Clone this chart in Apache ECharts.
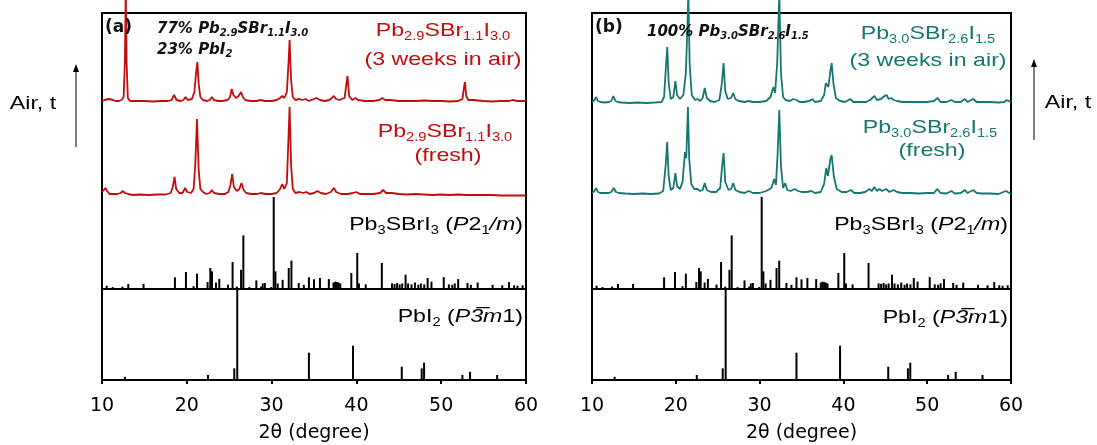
<!DOCTYPE html>
<html><head><meta charset="utf-8">
<script src="https://cdn.jsdelivr.net/npm/echarts@6/dist/echarts.min.js"></script>
<style>html,body{margin:0;padding:0;background:#fff}#c{width:1097px;height:445px}</style>
</head><body><div id="c"></div>
<script>
// ---------------- data ----------------
const xTicks = [10, 20, 30, 40, 50, 60];
const xTitle = '2θ (degree)';

// (a) Pb2.9SBr1.1I3.0, 3 weeks in air  [2θ, intensity a.u.]
const airA = [[10,1],[10.3,2],[10.5,1],[10.8,3],[11.0,1],[11.3,2],[11.6,1],[12.0,1],[12.3,2],[12.55,5],[12.7,40],[12.8,112],[12.9,40],[13.05,4],[13.3,1],[14,1],[15,1],[16,0.5],[17,1],[17.8,1],[18.2,2],[18.5,7],[18.8,2],[19.3,1],[19.6,2],[19.85,5],[20.1,2],[20.6,3],[20.9,10],[21.1,30],[21.25,40],[21.4,18],[21.6,5],[21.9,2],[22.4,1],[22.7,2],[22.95,5],[23.2,2],[23.7,1],[24.2,1],[24.8,2],[25.1,5],[25.3,13],[25.5,7],[25.8,4],[26.1,6],[26.4,10],[26.6,5],[26.9,2],[27.5,1],[28.2,1],[28.7,2],[29.2,1],[30,1],[30.6,2],[31,4],[31.25,6],[31.5,4],[31.8,10],[32.0,40],[32.12,62],[32.3,22],[32.5,5],[32.8,2],[33.3,3],[33.6,2],[34.0,3],[34.4,1],[35.0,3],[35.3,4],[35.7,2],[36.3,1],[36.8,2],[37.1,4],[37.35,6],[37.6,3],[38.0,2],[38.6,4],[38.85,20],[38.95,26],[39.15,6],[39.5,2],[39.9,4],[40.2,2],[41,1],[42,1],[42.7,2],[43.05,4],[43.4,2],[44,2],[45,1],[46,1],[47,1],[48,1.5],[49,1],[50,1],[51,0.5],[52,1],[52.5,3],[52.7,15],[52.8,20],[52.95,6],[53.2,2],[53.8,2],[54,1.5],[55,1],[56,0.5],[57,1],[58,1],[58.4,2],[59,1],[60,1]];
// (a) Pb2.9SBr1.1I3.0, fresh
const freshA = [[10,3],[10.2,5],[10.4,7],[10.6,4],[10.9,1],[11.3,1],[11.8,1],[12.2,2],[12.45,4],[12.7,2],[12.9,4],[13.1,1],[13.6,0],[14.5,0.5],[15.5,0],[16.5,0.5],[17.5,0.5],[18.1,2],[18.35,8],[18.55,18],[18.75,6],[19.1,2],[19.5,2],[19.8,7],[20.05,3],[20.5,2],[20.8,6],[21.0,30],[21.2,76],[21.4,25],[21.6,6],[21.9,3],[22.3,1],[22.7,2],[22.95,5],[23.2,2],[23.8,1],[24.5,1],[24.9,3],[25.15,10],[25.35,21],[25.55,8],[25.9,4],[26.2,6],[26.45,12],[26.7,5],[27.0,2],[27.6,1],[28.3,1],[28.7,2],[29.3,1],[30,1],[30.6,2],[31.0,6],[31.25,11],[31.5,6],[31.8,12],[32.0,60],[32.12,88],[32.3,30],[32.5,6],[32.8,2],[33.3,3],[33.7,2],[34.1,3],[34.5,1],[35.0,2],[35.4,4],[35.8,2],[36.4,1],[37.0,3],[37.35,7],[37.6,3],[38.2,1],[39.0,1],[39.6,2],[40.0,3],[40.4,1],[41.0,1],[42.0,1],[42.8,2],[43.15,5],[43.5,2],[44.2,2],[45,1],[46,0.5],[47,1],[48,0.5],[49,0],[50,0.5],[51,0],[52,0.5],[53,0],[54,0],[55,0],[56,0],[57,-0.5],[58,-0.5],[59,-0.5],[60,-0.5]];
// (b) Pb3.0SBr2.6I1.5, 3 weeks in air
const airB = [[10,1],[10.3,3],[10.5,6],[10.7,2],[11,1],[11.5,0.5],[12,1],[12.3,2],[12.55,7],[12.8,2],[13.1,1],[13.5,0.5],[14.5,0],[15.5,0.5],[16.5,0],[17.5,0.5],[18.3,1],[18.6,6],[18.85,40],[18.98,56],[19.15,20],[19.4,4],[19.7,6],[19.95,22],[20.15,8],[20.5,4],[20.9,8],[21.2,30],[21.4,80],[21.5,110],[21.65,40],[21.9,8],[22.3,3],[22.6,4],[22.9,2],[23.2,5],[23.45,15],[23.7,5],[24.1,2],[24.6,1],[25.2,3],[25.5,20],[25.7,40],[25.9,12],[26.2,4],[26.6,5],[26.85,10],[27.1,4],[27.5,2],[28.2,1],[28.7,2],[29.2,1],[30,1],[30.8,2],[31.3,6],[31.65,16],[31.85,10],[32.1,40],[32.35,110],[32.55,30],[32.8,6],[33.1,3],[33.6,2],[34.0,4],[34.4,3],[34.8,1],[35.3,1],[35.9,2],[36.3,4],[36.6,1],[37.3,2],[37.7,8],[37.9,20],[38.05,22],[38.2,16],[38.45,32],[38.6,40],[38.8,20],[39.1,5],[39.6,2],[40.2,1],[40.8,4],[41.2,1],[42,1],[42.7,1],[43.2,3],[43.7,7],[44.0,3],[44.5,4],[44.9,7],[45.15,8],[45.4,4],[45.7,5],[46.0,3],[46.4,2],[47,1],[48,1],[49,1],[50,1],[50.8,2],[51.25,5],[51.6,1],[52.3,1],[52.9,3],[53.3,1],[54,1],[54.5,4],[54.8,1],[55.5,4],[55.9,1],[56.5,1],[57.5,1],[58.5,0.5],[59.2,1],[59.5,3],[60,1]];
// (b) Pb3.0SBr2.6I1.5, fresh
const freshB = [[10,1],[10.3,3],[10.5,6],[10.7,2],[11,1],[11.5,1],[12,1],[12.3,2],[12.6,6],[12.85,2],[13.2,1],[14,0.5],[15,0],[16,0.5],[17,0],[18,0.5],[18.5,3],[18.8,30],[18.97,52],[19.15,18],[19.4,4],[19.7,6],[19.95,21],[20.15,8],[20.5,5],[20.8,12],[21.1,42],[21.25,36],[21.45,87],[21.6,35],[21.85,10],[22.2,5],[22.6,5],[22.9,3],[23.2,4],[23.45,11],[23.7,4],[24.2,2],[24.8,2],[25.3,6],[25.55,30],[25.7,41],[25.9,12],[26.3,4],[26.6,5],[26.85,11],[27.1,4],[27.6,2],[28.2,1],[28.7,3],[29.2,1],[30,1],[30.8,3],[31.4,6],[31.75,15],[31.95,9],[32.15,40],[32.35,84],[32.55,28],[32.8,6],[33.05,11],[33.3,4],[33.7,3],[34.2,5],[34.6,3],[35.0,2],[35.6,2],[36.2,3],[36.6,1],[37.3,2],[37.7,10],[37.95,26],[38.15,18],[38.45,35],[38.6,39],[38.85,18],[39.2,5],[39.8,2],[40.4,2],[40.9,4],[41.3,1],[42,1],[42.6,2],[43.1,5],[43.4,3],[43.7,7],[44.0,3],[44.3,5],[44.6,3],[45.1,5],[45.5,2],[46.0,4],[46.4,2],[47,1],[48,1],[49,0.5],[50,1],[50.8,1],[51.2,5],[51.6,1],[52.3,0.5],[52.9,3],[53.3,0.5],[54,1],[54.5,4],[54.8,1],[55.5,4],[55.9,1],[56.5,0.5],[57.5,0.5],[58.5,0],[59.4,3],[60,0]];
// reference sticks: Pb3SBrI3 (P2_1/m)
const simPb3SBrI3 = [[10.55,2.5],[11.26,1],[12.4,1.5],[13.1,4.5],[14.9,4.5],[18.6,11.7],[19.9,17.6],[20.8,2],[21.2,15.7],[22.45,6.6],[22.77,22],[22.97,18.3],[23.44,6],[23.83,10],[24.86,3.7],[25.4,28.5],[25.9,1.5],[26.4,20],[26.67,57.8],[27.37,1],[28.2,8.4],[28.76,1.5],[28.95,5],[29.2,5.5],[29.94,1],[30.25,100],[30.45,18.3],[30.72,5],[31.3,9],[32.02,22],[32.34,30],[33.2,5.5],[33.8,3.5],[34.4,11.7],[35.0,9.5],[35.7,11],[36.75,9.8],[37.3,6],[37.5,7],[37.7,6.5],[37.9,6],[38.1,5],[39.4,16.5],[40.1,38.5],[40.3,5],[41.1,4],[43.0,27.5],[44.2,5],[44.5,4.5],[44.8,5.5],[45.1,4],[45.4,5],[45.8,14.6],[46.1,5],[46.5,4],[46.9,6],[47.3,3.5],[47.6,5],[48.0,4],[48.4,11],[48.85,7],[50.3,12],[50.9,4],[51.3,3.5],[51.6,5],[52.0,9.8],[53.1,5.5],[53.5,3.5],[54.3,6],[56.06,3.5],[57.2,3],[58.0,6.5],[58.6,3],[59.0,2.5],[59.6,3]];
// reference sticks: PbI2 (P-3m1)
const simPbI2 = [[12.7,3.5],[22.5,5.5],[25.6,12.8],[25.95,100],[34.4,30],[38.8,1],[39.6,37.7],[41.75,1],[45.35,14.6],[47.7,12.8],[47.98,19],[52.5,5.5],[53.4,9],[56.6,5.5],[57.8,1]];

// ---------------- style ----------------
const RED = '#c40c0c', TEAL = '#17766f', BLACK = '#000';
const FONT = '"Liberation Sans", Arial, sans-serif';
const BFONT = '"DejaVu Sans", Verdana, sans-serif';
const SX = 1.22; // horizontal stretch of the original figure's text

const panels = [
  {left: 102, right: 571, air: airA, fresh: freshA, color: RED, airTop: 2, freshTop: 95},
  {left: 592, right: 86, air: airB, fresh: freshB, color: TEAL, airTop: 3, freshTop: 94}
];

const grid = [], xAxis = [], yAxis = [], series = [];
panels.forEach((p, pi) => {
  const g0 = grid.length;
  grid.push({left: p.left, right: p.right, top: 13, bottom: 65, show: true, borderColor: BLACK, borderWidth: 2, backgroundColor: 'transparent'}); // frame
  grid.push({left: p.left, right: p.right, top: p.airTop, height: 100});   // air
  grid.push({left: p.left, right: p.right, top: p.freshTop, height: 100}); // fresh
  grid.push({left: p.left, right: p.right, top: 197, height: 91});         // Pb3SBrI3
  grid.push({left: p.left, right: p.right, top: 289, bottom: 65, show: true, borderColor: BLACK, borderWidth: 2, backgroundColor: 'transparent'}); // PbI2
  for (let k = 0; k < 5; k++) {
    const last = k === 4;
    xAxis.push({
      gridIndex: g0 + k, type: 'value', min: xTicks[0], max: xTicks[xTicks.length - 1], interval: 10,
      show: last,
      axisLine: {show: last, lineStyle: {color: BLACK, width: 2}},
      axisTick: {show: last, length: 4, lineStyle: {color: BLACK, width: 2}},
      axisLabel: {show: last, fontSize: 19, color: BLACK, fontFamily: BFONT, margin: 17},
      splitLine: {show: false},
      name: last ? xTitle : '', nameLocation: 'middle', nameGap: 44,
      nameTextStyle: {fontSize: 19, color: BLACK, fontFamily: BFONT}
    });
    yAxis.push({gridIndex: g0 + k, type: 'value', min: 0, max: 100, show: false, splitLine: {show: false}});
  }
  const lineS = (idx, data) => ({
    type: 'line', xAxisIndex: idx, yAxisIndex: idx, data, showSymbol: false, symbol: 'none',
    clip: false, smooth: false, lineStyle: {color: p.color, width: 1.8}, silent: true, animation: false
  });
  series.push(lineS(g0 + 1, p.air));
  series.push(lineS(g0 + 2, p.fresh));
  const barS = (idx, data) => ({
    type: 'bar', xAxisIndex: idx, yAxisIndex: idx, data, barWidth: 2, barGap: '-100%',
    itemStyle: {color: BLACK}, silent: true, animation: false
  });
  series.push(barS(g0 + 3, simPb3SBrI3));
  series.push(barS(g0 + 4, simPbI2));
});

// ---------------- text ----------------
function rich(color, size, sub) {
  return {
    b: {fontSize: size, fontFamily: FONT, fill: color},
    i: {fontSize: size, fontFamily: FONT, fontStyle: 'italic', fill: color},
    s: {fontSize: sub, fontFamily: FONT, fill: color, padding: [Math.round(size * 0.6), 0, 0, 0]}
  };
}
function richBI(size, sub) {
  return {
    b: {fontSize: size, fontFamily: BFONT, fontWeight: 'bold', fontStyle: 'italic', fill: '#111'},
    s: {fontSize: sub, fontFamily: BFONT, fontWeight: 'bold', fontStyle: 'italic', fill: '#111', padding: [Math.round(size * 0.6), 0, 0, 0]}
  };
}
function T(text, x, y, align, r, sx) {
  return {type: 'text', x, y, z: 100, silent: true, scaleX: sx || 1,
    style: {text, rich: r, align, verticalAlign: 'middle', fontSize: 19, fontFamily: FONT}};
}
const rR = rich(RED, 19, 12), rT = rich(TEAL, 19, 12), rK = rich(BLACK, 19, 12);
const rBI = richBI(15, 10);
const simLabel = '{b|Pb}{s|3}{b|SBrI}{s|3}{b| (}{i|P}{b|2}{s|1}{i|/m}{b|)}';
const pbi2Label = '{b|PbI}{s|2}{b| (}{i|P3\u0305m}{b|1)}';

const graphic = [
  {type: 'text', x: 105, y: 28, z: 100, style: {text: '(a)', fontSize: 17, fontWeight: 'bold', fontFamily: BFONT, fill: '#111', verticalAlign: 'middle'}},
  T('{b|77% Pb}{s|2.9}{b|SBr}{s|1.1}{b|I}{s|3.0}', 157, 29, 'left', rBI),
  T('{b|23% PbI}{s|2}', 157, 50, 'left', rBI),
  T('{b|Pb}{s|2.9}{b|SBr}{s|1.1}{b|I}{s|3.0}', 443, 31, 'center', rR, SX),
  T('{b|(3 weeks in air)}', 443, 60, 'center', rR, SX),
  T('{b|Pb}{s|2.9}{b|SBr}{s|1.1}{b|I}{s|3.0}', 445, 132, 'center', rR, SX),
  T('{b|(fresh)}', 448, 156, 'center', rR, SX),
  T(simLabel, 523, 225, 'right', rK, SX),
  T(pbi2Label, 523, 317, 'right', rK, SX),

  {type: 'text', x: 595, y: 28, z: 100, style: {text: '(b)', fontSize: 17, fontWeight: 'bold', fontFamily: BFONT, fill: '#111', verticalAlign: 'middle'}},
  T('{b|100% Pb}{s|3.0}{b|SBr}{s|2.6}{b|I}{s|1.5}', 647, 32, 'left', rBI),
  T('{b|Pb}{s|3.0}{b|SBr}{s|2.6}{b|I}{s|1.5}', 928, 34, 'center', rT, SX),
  T('{b|(3 weeks in air)}', 928, 61, 'center', rT, SX),
  T('{b|Pb}{s|3.0}{b|SBr}{s|2.6}{b|I}{s|1.5}', 930, 128, 'center', rT, SX),
  T('{b|(fresh)}', 932, 151, 'center', rT, SX),
  T(simLabel, 1008, 225, 'right', rK, SX),
  T(pbi2Label, 1008, 318, 'right', rK, SX),

  {type: 'text', x: 33, y: 104, z: 100, scaleX: SX, style: {text: 'Air, t', fontSize: 19, fontFamily: FONT, fill: BLACK, align: 'center', verticalAlign: 'middle'}},
  {type: 'line', z: 100, shape: {x1: 76, y1: 147, x2: 76, y2: 70}, style: {stroke: BLACK, lineWidth: 1}},
  {type: 'polygon', z: 100, shape: {points: [[76, 64], [73, 72], [79, 72]]}, style: {fill: BLACK}},
  {type: 'text', x: 1068, y: 103, z: 100, scaleX: SX, style: {text: 'Air, t', fontSize: 19, fontFamily: FONT, fill: BLACK, align: 'center', verticalAlign: 'middle'}},
  {type: 'line', z: 100, shape: {x1: 1034, y1: 140, x2: 1034, y2: 66}, style: {stroke: BLACK, lineWidth: 1}},
  {type: 'polygon', z: 100, shape: {points: [[1034, 59], [1031, 67], [1037, 67]]}, style: {fill: BLACK}}
];

const chart = echarts.init(document.getElementById('c'), null, {renderer: 'canvas'});
chart.setOption({animation: false, backgroundColor: '#fff', grid, xAxis, yAxis, series, graphic});
</script></body></html>
